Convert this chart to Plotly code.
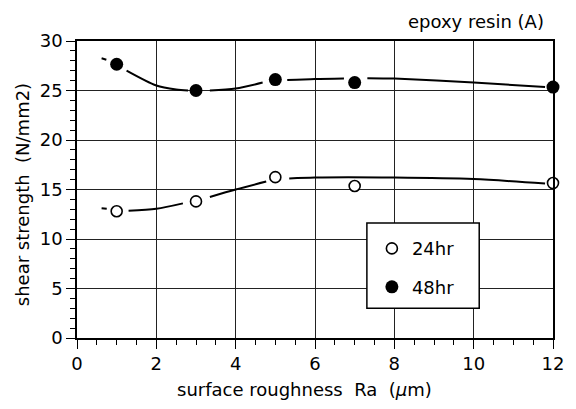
import plotly.graph_objects as go

# measured points
ra = [1, 3, 5, 7, 12]
s24 = [12.8, 13.8, 16.25, 15.35, 15.65]
s48 = [27.65, 25.0, 26.1, 25.8, 25.35]

# hand-drawn fitted curves, segments separated by None
fit48_x = [0.62, 0.74, None, 1.25, 2.0, 2.5, 2.8, None, 3.35, 4.0, 4.68, None, 5.3, 6.0, 6.73, None, 7.32, 8.0, 10.0, 11.8]
fit48_y = [28.25, 28.1, None, 27.0, 25.5, 25.1, 25.0, None, 25.0, 25.2, 25.8, None, 26.05, 26.15, 26.2, None, 26.25, 26.2, 25.8, 25.35]
fit24_x = [0.62, 0.75, None, 1.3, 2.0, 2.67, None, 3.35, 4.0, 4.77, None, 5.35, 6.0, 8.0, 10.0, 11.8]
fit24_y = [13.1, 13.05, None, 12.85, 13.05, 13.6, None, 14.25, 15.0, 15.8, None, 16.1, 16.2, 16.2, 16.05, 15.6]

x_ticks = [0, 2, 4, 6, 8, 10, 12]
y_ticks = [0, 5, 10, 15, 20, 25, 30]

FONT = "DejaVu Sans"
fig = go.Figure()

for fx, fy in [(fit48_x, fit48_y), (fit24_x, fit24_y)]:
    fig.add_trace(go.Scatter(x=fx, y=fy, mode="lines", line=dict(color="black", width=2, shape="spline", smoothing=0.8),
                             connectgaps=False, showlegend=False, hoverinfo="skip", cliponaxis=False))

fig.add_trace(go.Scatter(x=ra, y=s24, mode="markers", name="24hr", legendgroup="a", cliponaxis=False,
                         marker=dict(symbol="circle", size=11, color="white", line=dict(color="black", width=1.6))))
fig.add_trace(go.Scatter(x=ra, y=s48, mode="markers", name="48hr", legendgroup="b", cliponaxis=False,
                         marker=dict(symbol="circle", size=13, color="black", line=dict(color="black", width=0))))

axis_common = dict(showline=True, linecolor="black", linewidth=1.5, mirror=True,
                   showgrid=True, gridcolor="#222", gridwidth=1, zeroline=False,
                   ticks="outside", ticklen=9, tickwidth=1.2, tickcolor="black",
                   tickfont=dict(family=FONT, size=18, color="black"))

fig.update_xaxes(range=[0, 12], tickvals=x_ticks, ticktext=[str(v) for v in x_ticks],
                 minor=dict(dtick=0.5, ticks="outside", ticklen=5, tickwidth=1, tickcolor="black", showgrid=False),
                 **axis_common)
fig.update_yaxes(range=[0, 30], tickvals=y_ticks, ticktext=[str(v) for v in y_ticks],
                 minor=dict(dtick=1, ticks="outside", ticklen=5, tickwidth=1, tickcolor="black", showgrid=False),
                 **axis_common)

fig.update_layout(
    width=568, height=401,
    margin=dict(l=69, r=21, t=33, b=71),
    paper_bgcolor="white", plot_bgcolor="white",
    font=dict(family=FONT, color="black"),
    showlegend=True,
    legend=dict(x=0.609, y=0.363, xanchor="left", yanchor="top",
                bgcolor="rgba(0,0,0,0)", borderwidth=0,
                font=dict(family=FONT, size=18, color="black"),
                indentation=5, tracegroupgap=12, itemwidth=30),
    shapes=[
        dict(type="rect", xref="paper", yref="paper", x0=0.609, x1=0.845, y0=0.100, y1=0.387,
             fillcolor="white", line=dict(color="black", width=1.5), layer="above"),
    ],
    annotations=[
        dict(text="epoxy resin (A)", xref="paper", yref="paper", x=0.985, y=1.067,
             xanchor="right", yanchor="middle", showarrow=False, font=dict(family=FONT, size=18)),
        dict(text="surface roughness  Ra  (<i>μ</i>m)", xref="paper", yref="paper", x=(305 - 77) / 478, y=-0.175,
             xanchor="center", yanchor="middle", showarrow=False, font=dict(family=FONT, size=18)),
        dict(text="shear strength  (N/mm2)", xref="paper", yref="paper", x=(22 - 77) / 478, y=1 - (195 - 41) / 297,
             xanchor="center", yanchor="middle", textangle=-90, showarrow=False, font=dict(family=FONT, size=18)),
    ],
)

fig.write_html("out.html")
